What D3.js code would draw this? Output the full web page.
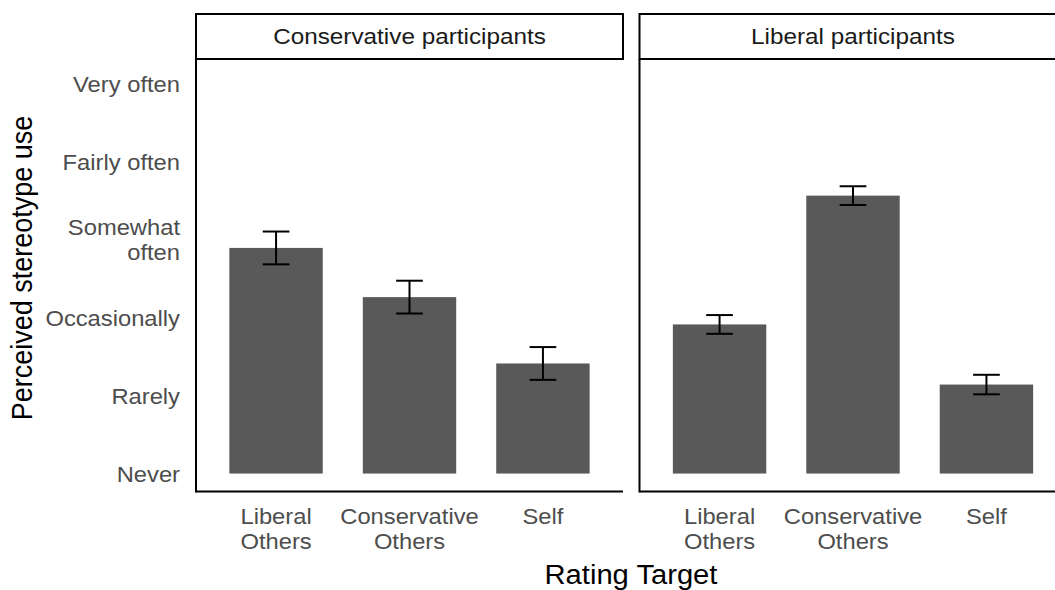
<!DOCTYPE html>
<html>
<head>
<meta charset="utf-8">
<script src="https://cdn.jsdelivr.net/npm/d3@7"></script>
<style>
  body { margin: 0; background: #fff; }
  text { font-family: "Liberation Sans", Arial, sans-serif; }
</style>
</head>
<body>
<svg id="chart" width="1055" height="590"></svg>
<script>
// Facets, rating targets and mean ratings (1 = Never ... 6 = Very often)
const panels = ["Conservative participants", "Liberal participants"];
const targets = ["Liberal Others", "Conservative Others", "Self"];
const meanConservative = [3.89, 3.26, 2.41];
const errConservative = [0.21, 0.21, 0.21];
const meanLiberal = [2.91, 4.56, 2.14];
const errLiberal = [0.12, 0.12, 0.125];
const levelValues = [1, 2, 3, 4, 5, 6];
const levelLabels = ["Never", "Rarely", "Occasionally", "Somewhat often", "Fairly often", "Very often"];

const panelData = [
  { name: panels[0], means: meanConservative, errs: errConservative },
  { name: panels[1], means: meanLiberal, errs: errLiberal }
];

const svg = d3.select("#chart");

const panelTop = 59, panelBottom = 491.5;
const stripTop = 14;
const panelWidth = 427;
const panelLefts = [196, 639.5];
const stretch = 1.08; // horizontal text stretch

const y = d3.scaleLinear().domain([0.77, 6.31]).range([panelBottom, panelTop]);

const x = d3.scaleBand()
  .domain(targets)
  .range([0, panelWidth])
  .paddingInner(0.3)
  .paddingOuter(0.25);

// two-line label splitting for ticks
const lines = s => {
  const parts = s.split(" ");
  return parts.length > 1 ? [parts[0], parts.slice(1).join(" ")] : [s];
};

panelData.forEach((p, i) => {
  const g = svg.append("g").attr("transform", `translate(${panelLefts[i]},0)`);

  // strip
  g.append("rect")
    .attr("x", 0).attr("y", stripTop)
    .attr("width", panelWidth).attr("height", panelTop - stripTop)
    .attr("fill", "#fff").attr("stroke", "#000").attr("stroke-width", 2);
  g.append("text")
    .attr("transform", `translate(${panelWidth / 2},${(stripTop + panelTop) / 2}) scale(${stretch},1)`)
    .attr("dy", "0.35em")
    .attr("text-anchor", "middle")
    .attr("font-size", 22.5)
    .attr("fill", "#1a1a1a")
    .text(p.name);

  const rows = targets.map((t, k) => ({ t, m: p.means[k], e: p.errs[k] }));

  // bars
  g.selectAll("rect.bar")
    .data(rows)
    .join("rect")
    .attr("class", "bar")
    .attr("x", d => x(d.t))
    .attr("width", x.bandwidth())
    .attr("y", d => y(d.m))
    .attr("height", d => y(1) - y(d.m))
    .attr("fill", "#595959");

  // error bars
  const eb = g.selectAll("g.err")
    .data(rows)
    .join("g")
    .attr("class", "err")
    .attr("transform", d => `translate(${x(d.t) + x.bandwidth() / 2},0)`)
    .attr("stroke", "#000").attr("stroke-width", 2);
  const cap = x.step() * 0.1;
  eb.append("line").attr("x1", 0).attr("x2", 0)
    .attr("y1", d => y(d.m + d.e)).attr("y2", d => y(d.m - d.e));
  eb.append("line").attr("x1", -cap).attr("x2", cap)
    .attr("y1", d => y(d.m + d.e)).attr("y2", d => y(d.m + d.e));
  eb.append("line").attr("x1", -cap).attr("x2", cap)
    .attr("y1", d => y(d.m - d.e)).attr("y2", d => y(d.m - d.e));

  // x axis
  const xa = g.append("g")
    .attr("transform", `translate(0,${panelBottom})`)
    .call(d3.axisBottom(x).tickSize(0).tickPadding(0));
  xa.select(".domain").remove();
  xa.selectAll(".tick text").each(function (d) {
    const t = d3.select(this);
    t.text(null).attr("y", 0).attr("dy", null)
      .attr("transform", `scale(${stretch},1)`)
      .attr("font-size", 22).attr("fill", "#4d4d4d")
      .attr("font-family", "Liberation Sans, Arial, sans-serif");
    lines(d).forEach((ln, j) => {
      t.append("tspan").attr("x", 0).attr("y", 25 + j * 25 + 8).text(ln);
    });
  });
  g.append("line")
    .attr("x1", 0).attr("x2", panelWidth)
    .attr("y1", panelBottom).attr("y2", panelBottom)
    .attr("stroke", "#000").attr("stroke-width", 2);

  // left panel edge
  g.append("line")
    .attr("x1", 0).attr("x2", 0)
    .attr("y1", panelTop).attr("y2", panelBottom + 1)
    .attr("stroke", "#000").attr("stroke-width", 2);
});

// y axis
const ya = svg.append("g")
  .attr("transform", `translate(${panelLefts[0]},0)`)
  .call(d3.axisLeft(y).tickValues(levelValues).tickSize(0).tickPadding(16)
    .tickFormat((d, k) => levelLabels[k]));
ya.select(".domain").remove();
ya.selectAll(".tick text").each(function (d, k) {
  const t = d3.select(this);
  const lbl = levelLabels[k];
  t.text(null).attr("dy", null).attr("x", null)
    .attr("transform", `translate(-16,0) scale(${stretch},1)`)
    .attr("font-size", 22).attr("fill", "#4d4d4d")
    .attr("font-family", "Liberation Sans, Arial, sans-serif");
  const ls = lbl === "Somewhat often" ? lines(lbl) : [lbl];
  ls.forEach((ln, j) => {
    t.append("tspan").attr("x", 0)
      .attr("y", (j - (ls.length - 1) / 2) * 25 + 8).text(ln);
  });
});

// axis titles
svg.append("text")
  .attr("transform", `translate(32,268) scale(${stretch},1) rotate(-90)`)
  .attr("text-anchor", "middle")
  .attr("font-size", 27)
  .attr("fill", "#000")
  .text("Perceived stereotype use");

svg.append("text")
  .attr("transform", `translate(631,584) scale(${stretch},1)`)
  .attr("text-anchor", "middle")
  .attr("font-size", 27)
  .attr("fill", "#000")
  .text("Rating Target");
</script>
</body>
</html>
